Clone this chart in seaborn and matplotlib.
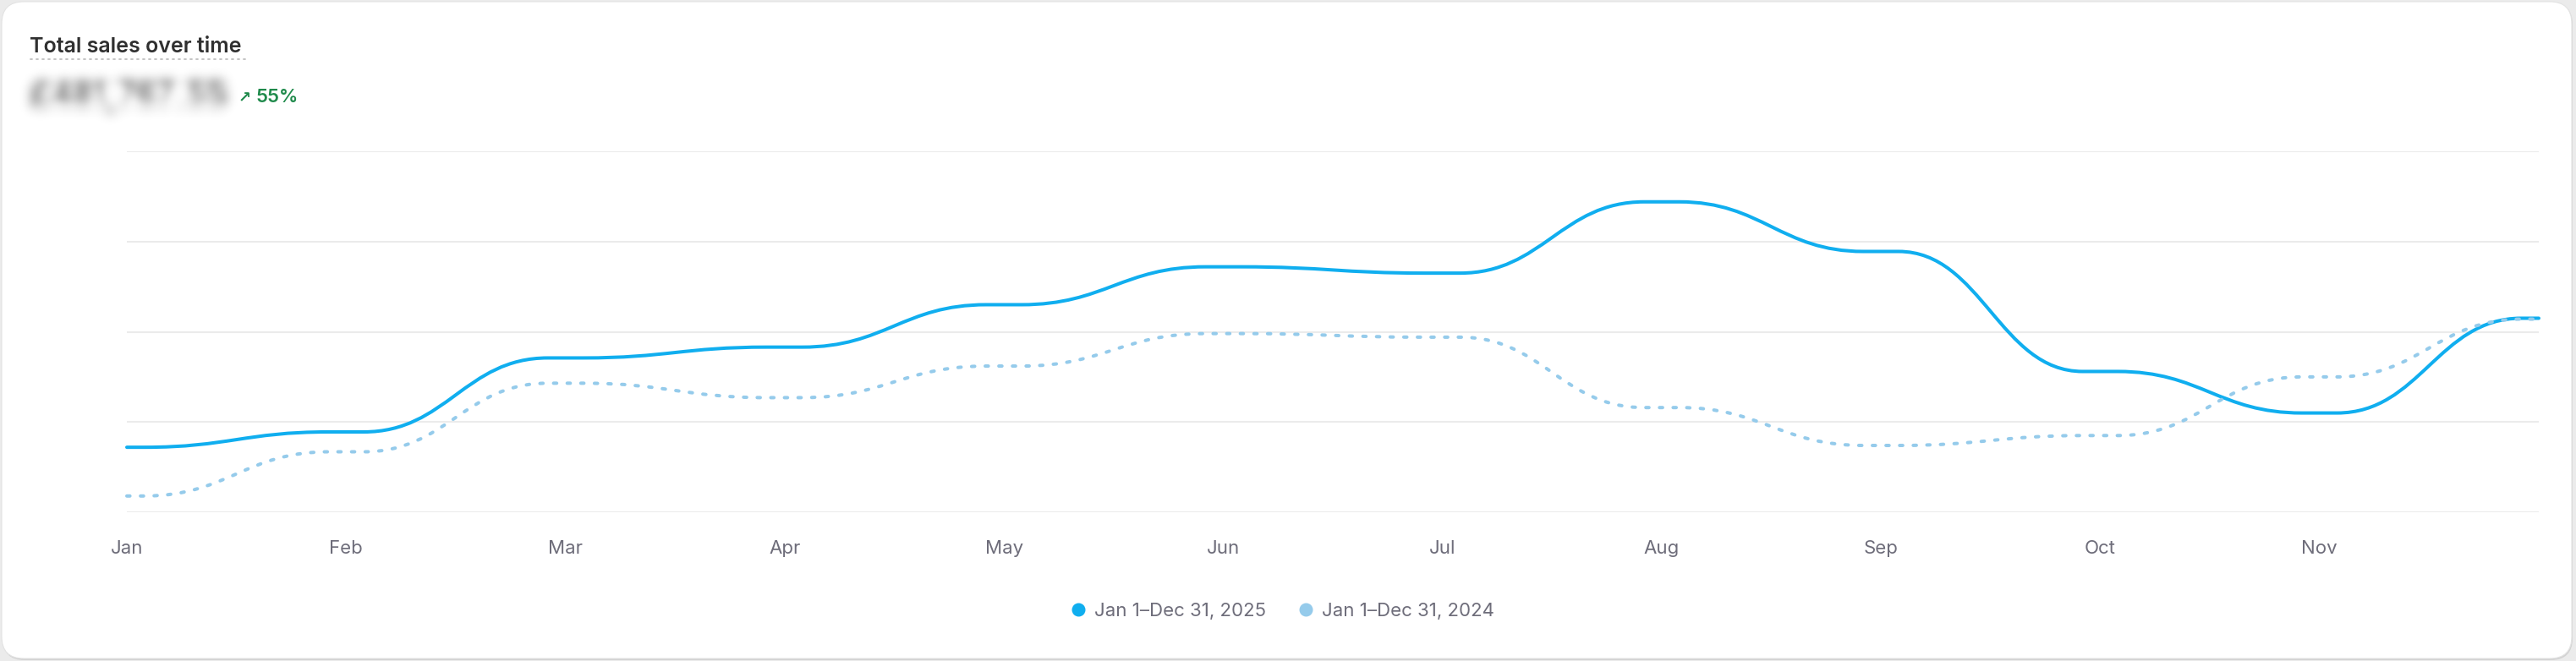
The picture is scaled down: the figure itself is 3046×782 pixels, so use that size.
import numpy as np
import pandas as pd
import seaborn as sns
import matplotlib.pyplot as plt
from matplotlib.path import Path
from matplotlib.patches import PathPatch, FancyBboxPatch
from matplotlib.lines import Line2D

# monthly totals, £ thousands (y axis is hidden)
months = ["Jan", "Feb", "Mar", "Apr", "May", "Jun", "Jul", "Aug", "Sep", "Oct", "Nov", "Dec"]
sales_2025 = [14.4, 17.8, 34.2, 36.6, 46.0, 54.4, 53.0, 68.8, 57.8, 31.2, 22.0, 43.0]
sales_2024 = [3.6, 13.4, 28.6, 25.4, 32.4, 39.6, 38.8, 23.2, 14.8, 17.0, 30.0, 42.8]
series_labels = ["Jan 1\u2013Dec 31, 2025", "Jan 1\u2013Dec 31, 2024"]
tick_months = months[:11]
total_text = "\u00a3481,767.55"
change_text = "55%"

W, H = 3046, 782
col_now = "#10AEEF"
col_prev = "#95CBEB"
txt_grey = "#6E6D7A"

sns.set_theme(style="white")
plt.rcParams["font.family"] = ["Inter", "DejaVu Sans"]

fig = plt.figure(figsize=(W / 100, H / 100), dpi=100)
fig.patch.set_facecolor("#EBEBEB")

# card with a soft shadow
fig.add_artist(FancyBboxPatch((3, 1), 3039, 778, boxstyle="round,pad=0,rounding_size=26",
                              transform=None, fc="#D2D2D2", ec="none", zorder=-11))
fig.add_artist(FancyBboxPatch((2, 3), 3039, 777, boxstyle="round,pad=0,rounding_size=26",
                              transform=None, fc="white", ec="#E3E3E3", lw=0.8, zorder=-10))

ax = fig.add_axes([150 / W, (H - 606) / H, (3002 - 150) / W, (606 - 179) / H])
ax.set_facecolor("none")

df = pd.DataFrame({
    "month": list(range(12)) * 2,
    "sales": sales_2025 + sales_2024,
    "period": [series_labels[0]] * 12 + [series_labels[1]] * 12,
})
sns.lineplot(data=df, x="month", y="sales", hue="period", hue_order=series_labels,
             palette=[col_now, col_prev], legend=False, sort=False, ax=ax)


def rounded_step(xy, frac=0.42):
    # step-rounded curve: flat around each point, S-bend at the midpoint
    verts = [tuple(xy[0])]
    codes = [Path.MOVETO]
    for (x0, y0), (x1, y1) in zip(xy[:-1], xy[1:]):
        xm = (x0 + x1) / 2
        r = frac * (x1 - x0)
        verts += [(xm - r, y0), (xm - 0.1 * r, y0), (xm + 0.1 * r, y1), (xm + r, y1)]
        codes += [Path.LINETO, Path.CURVE4, Path.CURVE4, Path.CURVE4]
    verts.append(tuple(xy[-1]))
    codes.append(Path.LINETO)
    return Path(verts, codes)


styles = [dict(lw=2.9, ls="-", zorder=3), dict(lw=2.9, ls=(0, (0.9, 3.1)), zorder=4)]
for line, st in zip(list(ax.lines), styles):
    p = rounded_step(line.get_xydata())
    ax.add_patch(PathPatch(p, fill=False, ec=line.get_color(), lw=st["lw"], ls=st["ls"],
                           capstyle="round", joinstyle="round", zorder=st["zorder"], clip_on=False))
    line.remove()

ax.set_xlim(0, 11)
ax.set_ylim(0, 80)
ax.set_yticks([0, 20, 40, 60, 80])
ax.set_yticklabels([])
ax.grid(axis="y", color="#EBEBEB", lw=1.5)
ax.set_xticks(range(len(tick_months)))
ax.set_xticklabels(tick_months, fontsize=16, color=txt_grey)
ax.tick_params(axis="x", length=0, pad=24)
ax.tick_params(axis="y", length=0)
ax.set_xlabel("")
ax.set_ylabel("")
sns.despine(ax=ax, left=True, bottom=True)

# header
fig.text(35 / W, 1 - 62 / H, "Total sales over time", fontsize=18, fontweight="semibold",
         color="#303030", va="baseline", ha="left")
fig.add_artist(Line2D([36, 292], [H - 70, H - 70], transform=None, color="#C4C4C4",
                      lw=1.4, ls=(0, (1, 2.6)), solid_capstyle="round", dash_capstyle="round"))


def blur(img, dpi, sigma=7):
    pad = 3 * sigma
    a = np.pad(img, ((pad, pad), (pad, pad), (0, 0)))
    k = np.exp(-0.5 * (np.arange(-pad, pad + 1) / sigma) ** 2)
    k /= k.sum()
    a = np.apply_along_axis(lambda v: np.convolve(v, k, mode="same"), 0, a)
    a = np.apply_along_axis(lambda v: np.convolve(v, k, mode="same"), 1, a)
    return a, -pad, -pad


amount = fig.text(36 / W, 1 - 125 / H, total_text, fontsize=27, fontweight="bold",
                  color="#202020", va="baseline", ha="left")
amount.set_agg_filter(blur)

fig.text(282 / W, 1 - 121 / H, "\u2197", fontsize=13, fontweight="bold", color="#1F8A4B",
         va="baseline", ha="left", family=["DejaVu Sans"])
fig.text(302 / W, 1 - 121 / H, change_text, fontsize=16, fontweight="semibold", color="#1F8A4B",
         va="baseline", ha="left")

# legend
handles = [Line2D([], [], ls="none", marker="o", ms=10.5, mfc=c, mec=c)
           for c in [col_now, col_prev]]
fig.legend(handles, series_labels, loc="center", bbox_to_anchor=(0.4975, 1 - 723 / H), ncol=2,
           frameon=False, fontsize=16, labelcolor=txt_grey, handletextpad=0.35,
           columnspacing=1.6, handlelength=1.0)

fig.savefig("out.png", dpi=100, facecolor=fig.get_facecolor())
